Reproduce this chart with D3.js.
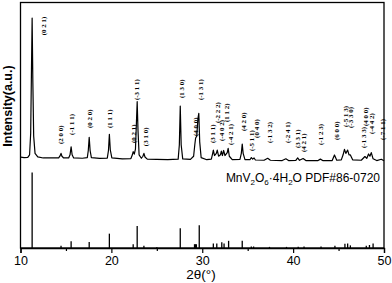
<!DOCTYPE html>
<html>
<head>
<meta charset="utf-8">
<script src="https://cdn.jsdelivr.net/npm/d3@7"></script>
<style>
  body { margin: 0; background: #fff; }
  svg { display: block; }
  .axis text { font-family: Arial, "Liberation Sans", sans-serif; font-size: 12.5px; fill: #000; }
  .hkl { font-family: "Liberation Serif", "DejaVu Serif", serif; font-size: 7px; font-weight: bold; }
</style>
</head>
<body>
<script>
// measured pattern, [2theta, intensity a.u.]
var obsTrace = [
  [10.0, 3.4], [10.4, 3.0], [10.8, 3.2], [11.0, 5], [11.12, 20], [11.2, 60], [11.28, 100], [11.36, 55],
  [11.45, 18], [11.6, 6], [11.9, 3.5], [12.5, 2.8], [13.5, 2.8], [14.2, 2.9], [14.35, 4.2], [14.46, 6.0],
  [14.56, 4], [14.75, 2.8], [15.3, 2.8], [15.45, 5], [15.57, 10.6], [15.68, 5], [15.85, 2.8], [16.8, 2.6],
  [17.35, 3], [17.46, 8], [17.56, 17.2], [17.66, 8], [17.8, 3], [18.7, 2.5], [19.55, 2.7], [19.68, 8],
  [19.78, 19.2], [19.88, 8.5], [20.05, 2.8], [21.2, 2.2], [22.15, 2.4], [22.3, 4.8], [22.4, 7.2], [22.52, 5.5],
  [22.65, 9], [22.76, 28], [22.84, 41.9], [22.93, 22], [23.05, 5], [23.3, 2.6], [23.47, 4], [23.58, 6.0],
  [23.7, 3.5], [23.95, 2], [25, 1.8], [26.2, 1.7], [27.35, 2], [27.48, 12], [27.58, 38.9], [27.68, 12],
  [27.85, 2.2], [28.7, 1.8], [29.05, 4], [29.18, 12], [29.27, 16.7], [29.4, 18], [29.52, 30], [29.62, 33.8],
  [29.72, 14], [29.88, 3], [30.5, 1.6], [31.0, 2], [31.15, 6], [31.22, 8.3], [31.35, 4.5], [31.55, 6],
  [31.65, 8.3], [31.8, 4], [32.0, 5], [32.1, 7.6], [32.22, 4.5], [32.35, 8], [32.5, 4.5], [32.75, 6.5],
  [32.85, 9.5], [32.98, 4], [33.3, 1.6], [34.15, 1.8], [34.3, 6], [34.4, 12.5], [34.5, 6], [34.7, 1.6],
  [35.25, 1.6], [35.4, 3.1], [35.55, 2], [35.7, 2.8], [35.85, 1.4], [36.8, 1.2], [37.2, 2.6], [37.5, 1.2],
  [38.8, 1], [39.2, 2.2], [39.5, 1], [40.3, 1.1], [40.5, 2.8], [40.7, 1.2], [41.1, 2.4], [41.4, 1],
  [42.7, 0.9], [43.0, 2.0], [43.3, 0.9], [44.3, 1], [44.55, 4.9], [44.8, 1.2], [45.3, 1.5], [45.5, 5],
  [45.65, 8.8], [45.8, 6], [46.0, 8.3], [46.15, 5], [46.3, 4.9], [46.55, 1.5], [47.5, 1.2], [47.9, 3.8],
  [48.1, 2.5], [48.3, 5.6], [48.45, 4], [48.6, 6.5], [48.8, 2.2], [49.2, 1], [49.7, 1.9], [50, 0.8]
];

// PDF#86-0720 reference lines
var refPos = [11.28, 14.46, 15.57, 17.56, 19.78, 22.4, 22.84, 23.58, 25.0, 27.58, 29.15, 29.25, 29.35,
  29.67, 31.22, 31.6, 32.15, 32.4, 32.9, 34.4, 35.4, 35.65, 37.4, 39.27, 40.56, 41.2, 43.07, 44.6,
  45.7, 46.0, 46.3, 48.05, 48.4, 48.8];
var refInt = [100, 3, 9, 8, 19, 5, 29, 3, 1, 26, 5, 5, 5,
  30, 6, 6, 7.5, 6, 9.5, 9.5, 2, 2, 1.5, 1.5, 1.5, 2, 2, 3,
  5.5, 6, 3.5, 3, 4, 6];

// hkl tags: text, 2theta where the tag sits, intensity level of its lower end
var hklText = ["(0 2 1)", "(2 0 0)", "(-1 1 1)", "(0 2 0)", "(1 1 1)", "(0 2 1)", "(-3 1 1)", "(3 1 0)",
  "(1 3 0)", "(4 0 0)", "(-1 3 1)", "(3 1 1)", "(-2 2 2)", "(-4 0 2)", "(1 1 2)", "(-4 2 1)",
  "(4 2 0)", "(-5 1 1)", "(0 4 0)", "(-1 3 2)", "(-2 4 1)", "(3 3 1)", "(4 2 1)", "(-1 2 3)",
  "(6 0 0)", "(-5 1 3)", "(-3 3 0)", "(4 0 0)", "(-1 3 3)", "(-4 4 2)", "(-7 1 1)"];
var hklPos = [12.58, 14.46, 15.57, 17.56, 19.78, 22.4, 22.82, 23.77,
  27.7, 29.3, 29.78, 31.18, 31.63, 32.15, 32.62, 33.12,
  34.56, 35.4, 35.95, 37.42, 39.38, 40.54, 41.15, 43.03,
  44.8, 45.8, 46.36, 47.94, 47.8, 48.68, 49.84];
var hklLevel = [88, 12.5, 18.8, 23.6, 23.6, 13.2, 43, 11,
  44.4, 18, 43, 13.2, 27, 14.6, 27.8, 11.8,
  21.5, 7.6, 16.7, 13.2, 13.2, 9.7, 6.9, 11.8,
  15.3, 24.3, 23.6, 25, 9.7, 19.4, 15.3];

var xTicks = [10, 20, 30, 40, 50];
var xMinor = [15, 25, 35, 45];

var width = 392, height = 283;
var margin = { top: 2.5, right: 8, bottom: 35, left: 20.5 };

var svg = d3.select("body").append("svg")
  .attr("width", width)
  .attr("height", height);

var x = d3.scaleLinear()
  .domain([10, 50])
  .range([margin.left, width - margin.right]);

var yObs = d3.scaleLinear()
  .domain([0, 100])
  .range([162, 18]);

var yRef = d3.scaleLinear()
  .domain([0, 100])
  .range([height - margin.bottom, 172.5]);

var bottom = height - margin.bottom;

// frame
svg.append("rect")
  .attr("x", margin.left)
  .attr("y", margin.top)
  .attr("width", width - margin.right - margin.left)
  .attr("height", bottom - margin.top)
  .attr("fill", "none")
  .attr("stroke", "#000")
  .attr("stroke-width", 1.3);

// x axis
svg.append("g")
  .attr("class", "axis")
  .attr("transform", "translate(0," + bottom + ")")
  .call(d3.axisBottom(x).tickValues(xTicks).tickSize(5).tickPadding(3).tickFormat(d3.format("d")))
  .call(g => g.select(".domain").attr("stroke-width", 1.3))
  .call(g => g.selectAll(".tick line").attr("stroke-width", 1.2));

svg.append("g")
  .attr("transform", "translate(0," + bottom + ")")
  .call(d3.axisBottom(x).tickValues(xMinor).tickSize(3).tickFormat(""))
  .call(g => g.select(".domain").remove())
  .call(g => g.selectAll(".tick line").attr("stroke-width", 1.2));

svg.append("text")
  .attr("x", 201)
  .attr("y", 279)
  .attr("text-anchor", "middle")
  .style("font-family", "Arial, 'Liberation Sans', sans-serif")
  .style("font-size", "13.5px")
  .text("2θ(°)");

svg.append("text")
  .attr("transform", "translate(12,106) rotate(-90)")
  .attr("text-anchor", "middle")
  .style("font-family", "Arial, 'Liberation Sans', sans-serif")
  .style("font-size", "12.5px")
  .style("font-weight", "bold")
  .text("Intensity(a.u.)");

// measured trace
var line = d3.line()
  .x(d => x(d[0]))
  .y(d => yObs(d[1]));

svg.append("path")
  .datum(obsTrace)
  .attr("d", line)
  .attr("fill", "none")
  .attr("stroke", "#000")
  .attr("stroke-width", 1.2)
  .attr("stroke-linejoin", "round");

// reference sticks
svg.selectAll(".stick")
  .data(refPos)
  .enter()
  .append("line")
  .attr("class", "stick")
  .attr("x1", d => x(d))
  .attr("x2", d => x(d))
  .attr("y1", bottom)
  .attr("y2", (d, i) => yRef(refInt[i]))
  .attr("stroke", "#000")
  .attr("stroke-width", 1.3);

// hkl tags
svg.selectAll(".hkl")
  .data(hklText)
  .enter()
  .append("text")
  .attr("class", "hkl")
  .attr("transform", (d, i) => "translate(" + x(hklPos[i]) + "," + yObs(hklLevel[i]) + ") rotate(-90)")
  .attr("dy", "0.35em")
  .text(d => d);

// phase label
var phase = svg.append("text")
  .attr("x", 380)
  .attr("y", 182)
  .attr("text-anchor", "end")
  .style("font-family", "Arial, 'Liberation Sans', sans-serif")
  .style("font-size", "12px");
phase.append("tspan").text("MnV");
phase.append("tspan").attr("dy", 3).style("font-size", "8px").text("2");
phase.append("tspan").attr("dy", -3).text("O");
phase.append("tspan").attr("dy", 3).style("font-size", "8px").text("6");
phase.append("tspan").attr("dy", -3).text("·4H");
phase.append("tspan").attr("dy", 3).style("font-size", "8px").text("2");
phase.append("tspan").attr("dy", -3).text("O PDF#86-0720");
</script>
</body>
</html>
